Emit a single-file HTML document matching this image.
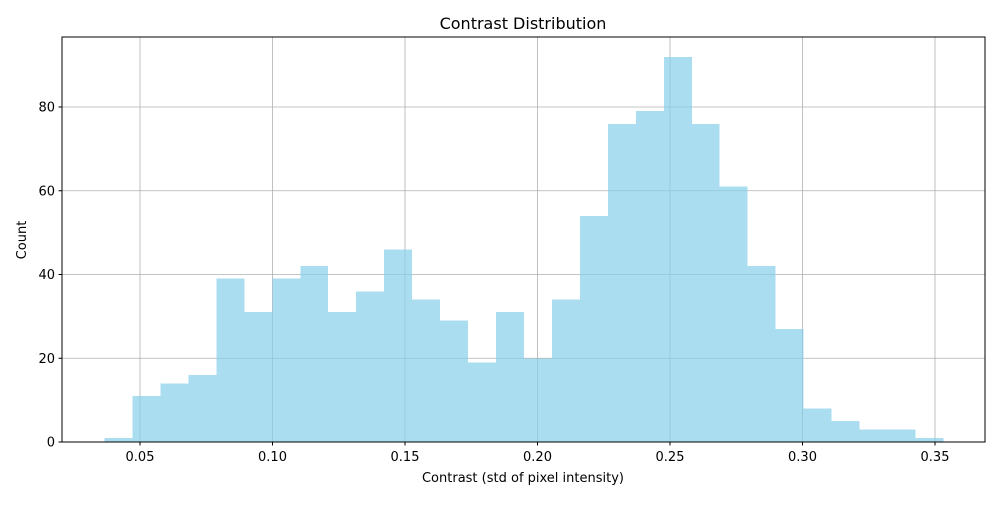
<!DOCTYPE html>
<html><head><meta charset="utf-8"><style>
body{margin:0;background:#fff;font-family:"Liberation Sans","DejaVu Sans",sans-serif}
svg text{font-family:"DejaVu Sans","Liberation Sans",sans-serif;font-size:13px;fill:#000}
</style></head><body>
<svg id="chart" width="1000" height="500">
<g id="grid"></g>
<g id="bars" shape-rendering="crispEdges"></g>
<rect x="62" y="37" width="923" height="405" fill="none" stroke="#000" stroke-width="1"/>
<g id="ticks"></g>
<text x="523" y="29" text-anchor="middle" style="font-size:16px">Contrast Distribution</text>
<text x="523" y="482" text-anchor="middle">Contrast (std of pixel intensity)</text>
<text x="26" y="240" text-anchor="middle" transform="rotate(-90 26 240)">Count</text>
</svg>
<script>
const binStart = 0.0366;
const binEnd = 0.3532;
const counts = [1,11,14,16,39,31,39,42,31,36,46,34,29,19,31,20,34,54,76,79,92,76,61,42,27,8,5,3,3,1];
const xTicks = [0.05,0.10,0.15,0.20,0.25,0.30,0.35];
const xTickLabels = ["0.05","0.10","0.15","0.20","0.25","0.30","0.35"];
const yTicks = [0,20,40,60,80];
const yTickLabels = ["0","20","40","60","80"];
const NS="http://www.w3.org/2000/svg";
function xs(v){return 140+(v-0.05)*(795/0.30);}
function ys(v){return 442-v*(335/80);}
function mk(tag,attrs,parent){const e=document.createElementNS(NS,tag);for(const k in attrs)e.setAttribute(k,attrs[k]);document.getElementById(parent).appendChild(e);return e;}
const grid="grid",bars="bars",ticks="ticks";
xTicks.forEach((t,i)=>{
  const x=xs(t);
  const g=mk("line",{x1:x,x2:x,y1:37,y2:442,stroke:"#b0b0b0","stroke-width":0.8},grid);
  
  
  const tk=mk("line",{x1:x,x2:x,y1:442,y2:445.5,stroke:"#000"},ticks);
  
  
  const tx=mk("text",{x:x,y:461,"text-anchor":"middle"},ticks);tx.textContent=xTickLabels[i];
  
  
});
yTicks.forEach((t,i)=>{
  const y=ys(t);
  const g=mk("line",{x1:62,x2:985,y1:y,y2:y,stroke:"#b0b0b0","stroke-width":0.8},grid);
  
  
  const tk=mk("line",{x1:58.5,x2:62,y1:y,y2:y,stroke:"#000"},ticks);
  
  
  const tx=mk("text",{x:55,y:y+4.5,"text-anchor":"end"},ticks);tx.textContent=yTickLabels[i];
  
  
});
const w=(binEnd-binStart)/counts.length;
counts.forEach((c,i)=>{
  const x0=xs(binStart+i*w),x1=xs(binStart+(i+1)*w);
  const r=mk("rect",{x:x0,y:ys(c),width:x1-x0,height:ys(0)-ys(c),fill:"#87ceeb","fill-opacity":0.7},bars);
  
  
});
</script>
</body></html>
